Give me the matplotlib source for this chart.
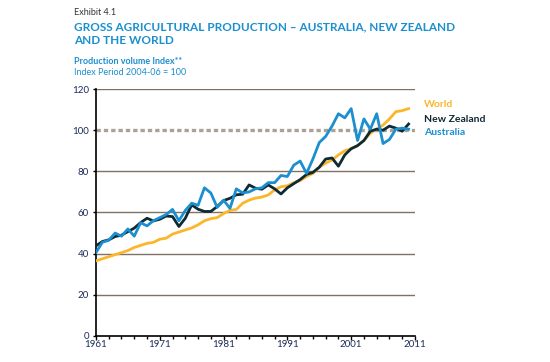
import matplotlib.pyplot as plt
import numpy as np

years = list(range(1961, 2011))

world = [36.5, 37.5, 38.5, 39.5, 40.5, 41.5, 43.0, 44.0, 45.0, 45.5,
         47.0, 47.5, 49.5, 50.5, 51.5, 52.5, 54.0, 56.0, 57.0, 57.5,
         59.5, 61.0, 61.5, 64.5, 66.0, 67.0, 67.5, 68.5, 71.0, 72.5,
         73.0, 74.5, 75.5, 77.5, 79.0, 82.0, 84.0, 85.5, 88.0, 90.0,
         91.0, 92.5, 95.0, 98.5, 100.5, 102.5, 105.5, 109.0, 109.5, 110.5]

new_zealand = [43.8, 45.9, 46.7, 48.3, 49.0, 50.7, 52.4, 55.1, 57.2, 55.9,
               56.7, 58.3, 58.0, 53.2, 57.2, 63.7, 61.6, 60.5, 60.5, 62.9,
               65.8, 66.9, 68.6, 68.9, 73.4, 71.8, 71.3, 73.4, 71.5, 69.0,
               72.0, 74.0, 76.0, 78.5, 79.5, 82.0, 86.0, 86.5, 82.5, 88.0,
               91.0, 92.5, 95.0, 99.5, 100.5, 100.0, 102.0, 101.0, 99.5, 103.0]

australia = [40.5, 45.5, 46.5, 50.0, 48.5, 52.0, 48.5, 55.0, 53.5, 56.0,
             57.5, 59.0, 61.5, 56.0, 61.0, 64.5, 63.5, 72.0, 69.5, 62.5,
             66.0, 62.0, 71.5, 69.5, 70.0, 71.5, 72.0, 74.5, 74.5, 78.0,
             77.5, 83.0, 85.0, 79.0, 86.0, 94.0, 97.0, 102.0, 108.0, 106.0,
             110.5, 95.0, 105.5, 100.5, 108.0, 93.5, 95.5, 100.5, 101.0, 100.5]

y_ticks = [0, 20, 40, 60, 80, 100, 120]
x_labels = [1961, 1971, 1981, 1991, 2001, 2011]

c_world = "#fbb62b"
c_nz = "#0e2b35"
c_aus = "#1b8fcf"
c_grid = "#7f7265"
c_title = "#1b8fcf"

plt.rcParams['font.family'] = ['Lato', 'DejaVu Sans']

fig = plt.figure(figsize=(5.5, 3.62), dpi=100)
ax = fig.add_axes([0.1745, 0.072, 0.58, 0.682])

for t in y_ticks:
    if t in (0, 100):
        continue
    ax.axhline(t, color=c_grid, lw=1.0, zorder=1)
ax.axhline(100, color="#aaa295", lw=2.4, ls=(0, (1.3, 0.9)), zorder=1)

ax.plot(years, world, color=c_world, lw=2.0, zorder=3)
ax.plot(years, new_zealand, color=c_nz, lw=2.0, zorder=4)
ax.plot(years, australia, color=c_aus, lw=2.0, zorder=5)

ax.set_xlim(1961, 2011)
ax.set_ylim(0, 120)
ax.set_xticks(x_labels)
ax.set_xticks(range(1961, 2012, 2), minor=True)
ax.set_yticks(y_ticks)

for s in ("top", "right"):
    ax.spines[s].set_visible(False)
ax.spines["left"].set_linewidth(1.2)
ax.spines["bottom"].set_linewidth(1.2)

ax.tick_params(axis="x", which="major", length=3, width=1, pad=0, labelsize=7, labelcolor="#1d2a5a")
ax.tick_params(axis="x", which="minor", length=2, width=1)
ax.tick_params(axis="y", length=2, width=1, pad=3, labelsize=7, labelcolor="#1d2a5a")

# right-hand labels in place of a legend
fig.text(0.771, 0.712, "World", color=c_world, fontsize=7.5, fontweight="bold", va="center")
fig.text(0.771, 0.671, "New Zealand", color=c_nz, fontsize=7.5, fontweight="bold", va="center")
fig.text(0.771, 0.635, "Australia", color=c_aus, fontsize=7.5, fontweight="bold", va="center")

# header text
fig.text(0.134, 0.966, "Exhibit 4.1", color="#333333", fontsize=6.5, va="center")
fig.text(0.134, 0.927, "GROSS AGRICULTURAL PRODUCTION \u2013 AUSTRALIA, NEW ZEALAND",
         color=c_title, fontsize=8.5, fontweight="bold", va="center")
fig.text(0.134, 0.888, "AND THE WORLD", color=c_title, fontsize=8.5, fontweight="bold", va="center")
fig.text(0.134, 0.831, "Production volume Index**", color=c_title, fontsize=6.5,
         fontweight="bold", va="center")
fig.text(0.134, 0.800, "Index Period 2004-06 = 100", color=c_title, fontsize=6.5, va="center")

fig.savefig("out.png", dpi=100)
